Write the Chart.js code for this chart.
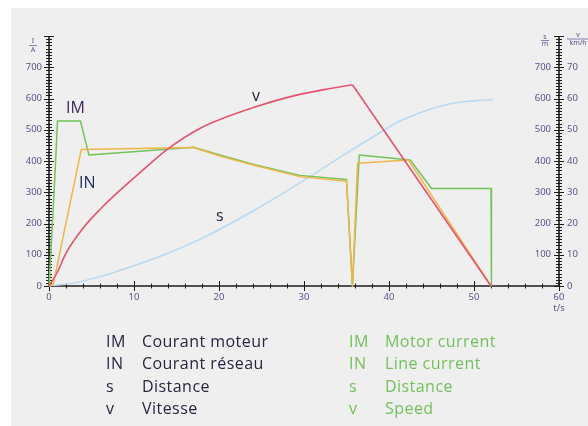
<!DOCTYPE html>
<html>
<head>
<meta charset="utf-8">
<script src="https://cdn.jsdelivr.net/npm/chart.js@4.4.1/dist/chart.umd.min.js"></script>
<style>
  html,body{margin:0;padding:0;background:#fff;width:588px;height:426px;overflow:hidden;}
  #bg{position:absolute;left:11px;top:8px;width:577px;height:418px;background:#efefef;}
  #c{position:absolute;left:0;top:0;}
  .lbl{position:absolute;font-family:"Open Sans",sans-serif;font-size:16px;line-height:16px;white-space:nowrap;}
  .leg{position:absolute;font-family:"Open Sans",sans-serif;font-size:16px;line-height:16px;white-space:nowrap;letter-spacing:0.45px;}
  .dk{color:#2a2440;}
  .gr{color:#74c05c;}
</style>
</head>
<body>
<div id="bg"></div>
<canvas id="c" width="588" height="426"></canvas>

<div class="lbl" style="left:66px;top:99px;color:#3c1f55;">IM</div>
<div class="lbl" style="left:79px;top:174px;color:#1f2d62;">IN</div>
<div class="lbl" style="left:252px;top:87px;color:#2a2440;">v</div>
<div class="lbl" style="left:216px;top:207px;color:#2a2440;">s</div>

<div id="legend"></div>

<script>
// ---------- data ----------
// Motor current IM (A) vs time (s)
const tIM = [0, 0.6, 1.0, 3.7, 4.7, 17.0, 20.0, 24.0, 29.5, 35.0, 35.7, 36.5, 42.5, 45.0, 52.0, 52.05];
const IM  = [0, 300, 528, 528, 419, 444, 420, 390, 354, 341, 0, 419, 403, 312, 312, 0];
// Line current IN (A)
const tIN = [0, 0.5, 3.8, 17.0, 20.0, 24.0, 29.5, 35.0, 35.7, 36.3, 42.3, 52.0];
const IN  = [0, 5, 437, 443, 417, 387, 350, 335, 0, 393, 403, 0];
// Speed v (km/h): acceleration phase and braking phase
const tVup = [0, 0.9, 2.1, 4.0, 6.0, 8.3, 11.0, 13.8, 17.8, 24.5, 29.0, 33.1, 35.7];
const Vup  = [0, 4, 11, 18.5, 24.5, 30.5, 37, 43.5, 50.5, 57.5, 61, 63.2, 64.4];
const tVdown = [35.7, 52.0];
const Vdown  = [64.4, 0];
// Distance s (m)
const tS = [0, 3, 6, 10, 14, 17.8, 24, 30.7, 35, 39.5, 41.3, 47.2, 52.2];
const S  = [0, 10, 30, 65, 105, 150, 240, 350, 425, 500, 528, 583, 597];

// tick labels
const xTickLabels = [0, 10, 20, 30, 40, 50, 60];
const iTickLabels = [0, 100, 200, 300, 400, 500, 600, 700];
const sTickLabels = [100, 200, 300, 400, 500, 600, 700];
const vTickLabels = [0, 10, 20, 30, 40, 50, 60, 70];

// legend
const legendSymbols = ['IM', 'IN', 's', 'v'];
const legendFR = ['Courant moteur', 'Courant réseau', 'Distance', 'Vitesse'];
const legendEN = ['Motor current', 'Line current', 'Distance', 'Speed'];

// ---------- legend html ----------
(function(){
  const L = document.getElementById('legend');
  let html = '';
  for (let i = 0; i < legendSymbols.length; i++) {
    const top = 333 + i * 22.4;
    html += `<div class="leg dk" style="left:106px;top:${top}px">${legendSymbols[i]}</div>`;
    html += `<div class="leg dk" style="left:142px;top:${top}px">${legendFR[i]}</div>`;
    html += `<div class="leg gr" style="left:349px;top:${top}px">${legendSymbols[i]}</div>`;
    html += `<div class="leg gr" style="left:385px;top:${top}px">${legendEN[i]}</div>`;
  }
  L.innerHTML = html;
})();

const pts = (ts, vs) => ts.map((t, i) => ({x: t, y: vs[i]}));

// ---------- axes plugin ----------
const axesPlugin = {
  id: 'axes',
  beforeDatasetsDraw(chart) {
    const ctx = chart.ctx;
    const xs = chart.scales.x, yI = chart.scales.yI, yV = chart.scales.yV;
    const x0 = xs.getPixelForValue(0), x60 = xs.getPixelForValue(60);
    const y0 = yI.getPixelForValue(0), yTop = yI.getPixelForValue(800);
    ctx.save();
    ctx.strokeStyle = '#1d1d1d';
    ctx.lineWidth = 1.6;
    ctx.beginPath();
    ctx.moveTo(x0, yTop); ctx.lineTo(x0, y0);
    ctx.moveTo(x60, yTop); ctx.lineTo(x60, y0);
    ctx.moveTo(x0, y0); ctx.lineTo(x60, y0);
    ctx.stroke();
    // y ticks
    ctx.lineWidth = 1;
    ctx.beginPath();
    for (let v = 0; v <= 800; v += 10) {
      const y = Math.round(yI.getPixelForValue(v)) + 0.5;
      const len = (v % 100 === 0) ? 5 : 3;
      [x0, x60].forEach(ax => { ctx.moveTo(ax - len, y); ctx.lineTo(ax + len, y); });
    }
    // x ticks
    for (let t = 0; t <= 60; t += 2) {
      const x = Math.round(xs.getPixelForValue(t)) + 0.5;
      const len = (t % 10 === 0) ? 5 : 2.5;
      ctx.moveTo(x, y0 - len); ctx.lineTo(x, y0 + len);
    }
    ctx.stroke();
    // labels
    ctx.fillStyle = '#55558a';
    ctx.font = '9.5px "Noto Sans", sans-serif';
    ctx.textBaseline = 'middle';
    ctx.textAlign = 'right';
    iTickLabels.forEach(v => ctx.fillText(String(v), x0 - 7, yI.getPixelForValue(v)));
    sTickLabels.forEach(v => ctx.fillText(String(v), x60 - 8, yI.getPixelForValue(v)));
    ctx.textAlign = 'left';
    vTickLabels.forEach(v => ctx.fillText(String(v), x60 + 8, yV.getPixelForValue(v)));
    ctx.textAlign = 'center';
    xTickLabels.forEach(t => ctx.fillText(String(t), xs.getPixelForValue(t), y0 + 11));
    ctx.fillText('t/s', x60, y0 + 22);
    // unit labels
    ctx.font = '7px "Noto Sans", sans-serif';
    ctx.fillText('I', x0 - 16, yTop + 5);
    ctx.fillText('A', x0 - 16, yTop + 14);
    ctx.fillText('s', x60 - 14, yTop + 1);
    ctx.fillText('m', x60 - 14, yTop + 8);
    ctx.fillText('v', x60 + 19, yTop - 1);
    ctx.fillText('km/h', x60 + 19, yTop + 7);
    ctx.lineWidth = 0.7;
    ctx.strokeStyle = '#55558a';
    ctx.beginPath();
    ctx.moveTo(x0 - 20, yTop + 9.5); ctx.lineTo(x0 - 12, yTop + 9.5);
    ctx.moveTo(x60 - 18, yTop + 4.5); ctx.lineTo(x60 - 10, yTop + 4.5);
    ctx.moveTo(x60 + 8, yTop + 3); ctx.lineTo(x60 + 30, yTop + 3);
    ctx.stroke();
    ctx.restore();
  }
};

new Chart(document.getElementById('c'), {
  type: 'line',
  data: {
    datasets: [
      {label: 's', data: pts(tS, S), yAxisID: 'yI', borderColor: '#b9d9f0', borderWidth: 1.5,
       cubicInterpolationMode: 'monotone', order: 5},
      {label: 'IM', data: pts(tIM, IM), yAxisID: 'yI', borderColor: '#72c35a', borderWidth: 1.5, order: 4},
      {label: 'IN', data: pts(tIN, IN), yAxisID: 'yI', borderColor: '#f0b548', borderWidth: 1.5, order: 3},
      {label: 'v', data: pts(tVup, Vup), yAxisID: 'yV', borderColor: '#e2546e', borderWidth: 1.6,
       cubicInterpolationMode: 'monotone', order: 1},
      {label: 'v braking', data: pts(tVdown, Vdown), yAxisID: 'yV', borderColor: '#e2546e', borderWidth: 1.6, order: 2}
    ]
  },
  options: {
    responsive: false,
    animation: false,
    devicePixelRatio: 1,
    layout: {padding: {left: 49, right: 29, top: 36, bottom: 140}},
    elements: {point: {radius: 0}, line: {tension: 0, borderJoinStyle: 'round'}},
    datasets: {line: {clip: false, fill: false}},
    plugins: {legend: {display: false}, tooltip: {enabled: false}},
    scales: {
      x: {type: 'linear', min: 0, max: 60, display: false},
      yI: {type: 'linear', min: 0, max: 800, display: false},
      yV: {type: 'linear', min: 0, max: 80, display: false}
    }
  },
  plugins: [axesPlugin]
});
</script>
</body>
</html>
